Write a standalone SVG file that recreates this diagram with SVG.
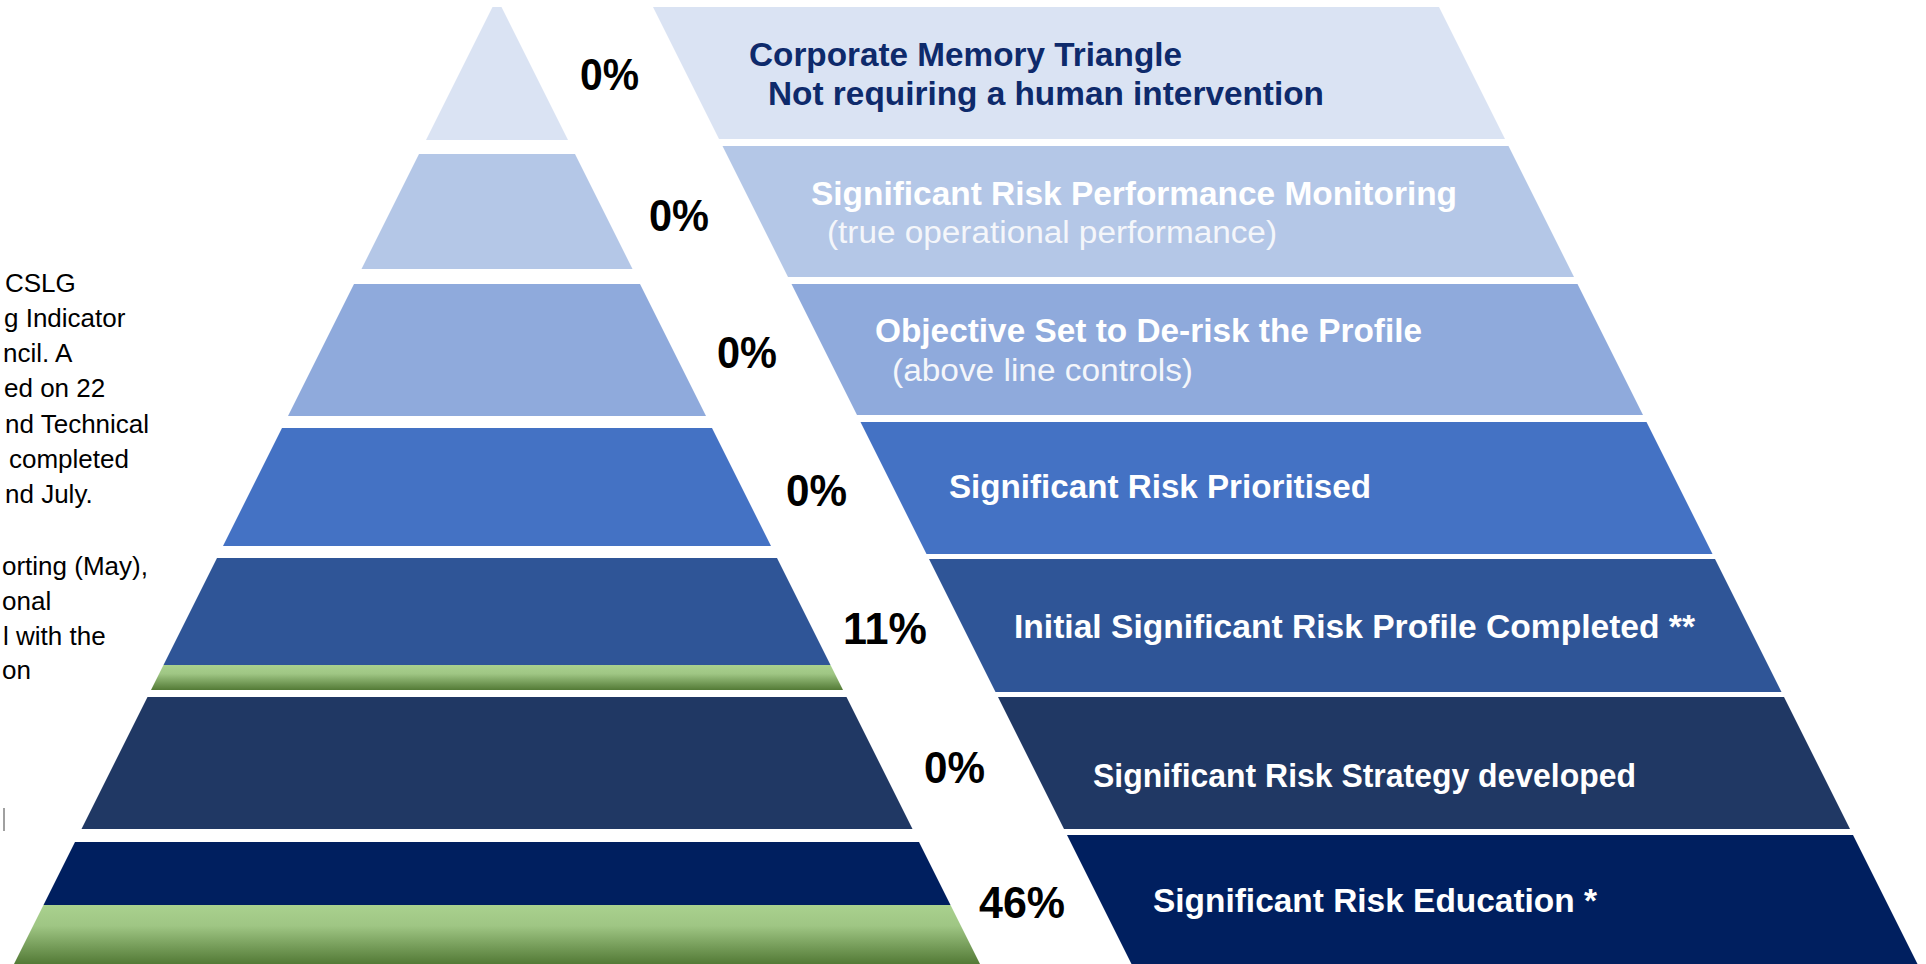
<svg xmlns="http://www.w3.org/2000/svg" width="1926" height="964" viewBox="0 0 1926 964">
<defs>
<linearGradient id="green" x1="0" y1="0" x2="0" y2="1">
<stop offset="0" stop-color="#a9d18e"/>
<stop offset="0.35" stop-color="#9fc684"/>
<stop offset="1" stop-color="#537a36"/>
</linearGradient>
<style>
.pct{font-family:"Liberation Sans",Arial,sans-serif;font-weight:bold;font-size:44px;fill:#000}
.lb{font-family:"Liberation Sans",Arial,sans-serif;font-weight:bold;font-size:33px;fill:#fff}
.lr{font-family:"Liberation Sans",Arial,sans-serif;font-size:31px;fill:#f4f6fa}
.nv{fill:#0e2a6b}
.side{font-family:"Liberation Sans",Arial,sans-serif;font-size:26px;fill:#000}
</style>
</defs>
<rect width="1926" height="964" fill="#fff"/>
<g id="side-text">
<text class="side" x="5" y="292">CSLG</text>
<text class="side" x="4" y="327">g Indicator</text>
<text class="side" x="3" y="362">ncil. A</text>
<text class="side" x="4" y="397">ed on 22</text>
<text class="side" x="5" y="433">nd Technical</text>
<text class="side" x="9" y="468">completed</text>
<text class="side" x="5" y="503">nd July.</text>
<text class="side" x="2" y="575">orting (May),</text>
<text class="side" x="2" y="610">onal</text>
<text class="side" x="3" y="645">l with the</text>
<text class="side" x="2" y="679">on</text>
<rect x="3" y="808" width="2" height="23" fill="#a0a0a0"/>
</g>
<g id="tier1">
<polygon points="492.5,7 501.5,7 568,140 426,140" fill="#dae3f3"/>
<polygon points="653,7 1439,7 1505,139 719,139" fill="#dae3f3"/>
<text class="pct" x="580" y="90" textLength="59" lengthAdjust="spacingAndGlyphs">0%</text>
<text class="lb nv" x="749" y="66" textLength="433" lengthAdjust="spacingAndGlyphs">Corporate Memory  Triangle</text>
<text class="lb nv" x="768" y="105" textLength="556" lengthAdjust="spacingAndGlyphs">Not requiring a human intervention</text>
</g>
<g id="tier2">
<polygon points="419,154 575,154 632.5,269 361.5,269" fill="#b4c7e7"/>
<polygon points="722.5,146 1508.5,146 1574,277 788,277" fill="#b4c7e7"/>
<text class="pct" x="649" y="231" textLength="60" lengthAdjust="spacingAndGlyphs">0%</text>
<text class="lb" x="811" y="205" textLength="646" lengthAdjust="spacingAndGlyphs">Significant Risk Performance Monitoring</text>
<text class="lr" x="827" y="243" textLength="450" lengthAdjust="spacingAndGlyphs">(true operational performance)</text>
</g>
<g id="tier3">
<polygon points="354,284 640,284 706,416 288,416" fill="#8faadc"/>
<polygon points="791.5,284 1577.5,284 1643,415 857,415" fill="#8faadc"/>
<text class="pct" x="717" y="368" textLength="60" lengthAdjust="spacingAndGlyphs">0%</text>
<text class="lb" x="875" y="342" textLength="547" lengthAdjust="spacingAndGlyphs">Objective Set to De-risk the Profile</text>
<text class="lr" x="892" y="381" textLength="301" lengthAdjust="spacingAndGlyphs">(above line controls)</text>
</g>
<g id="tier4">
<polygon points="282,428 712,428 771,546 223,546" fill="#4472c4"/>
<polygon points="860.5,422 1646.5,422 1712.5,554 926.5,554" fill="#4472c4"/>
<text class="pct" x="786" y="506" textLength="61" lengthAdjust="spacingAndGlyphs">0%</text>
<text class="lb" x="949" y="498" textLength="422" lengthAdjust="spacingAndGlyphs">Significant Risk Prioritised</text>
</g>
<g id="tier5">
<polygon points="217,558 777,558 830.5,665 163.5,665" fill="#2f5597"/>
<polygon points="163.5,665 830.5,665 843,690 151,690" fill="url(#green)"/>
<polygon points="929,559 1715,559 1781.5,692 995.5,692" fill="#2f5597"/>
<text class="pct" x="843" y="644" textLength="84" lengthAdjust="spacingAndGlyphs">11%</text>
<text class="lb" x="1014" y="638" textLength="681" lengthAdjust="spacingAndGlyphs">Initial Significant Risk Profile Completed **</text>
</g>
<g id="tier6">
<polygon points="147.5,697 846.5,697 912.5,829 81.5,829" fill="#203864"/>
<polygon points="998,697 1784,697 1850,829 1064,829" fill="#203864"/>
<text class="pct" x="924" y="783" textLength="61" lengthAdjust="spacingAndGlyphs">0%</text>
<text class="lb" x="1093" y="787" textLength="543" lengthAdjust="spacingAndGlyphs">Significant Risk Strategy developed</text>
</g>
<g id="tier7">
<polygon points="75,842 919,842 950.5,905 43.5,905" fill="#001f5f"/>
<polygon points="43.5,905 950.5,905 980,964 14,964" fill="url(#green)"/>
<polygon points="1067,835 1853,835 1917.5,964 1131.5,964" fill="#001f5f"/>
<text class="pct" x="979" y="918" textLength="86" lengthAdjust="spacingAndGlyphs">46%</text>
<text class="lb" x="1153" y="912" textLength="444" lengthAdjust="spacingAndGlyphs">Significant Risk Education *</text>
</g>
<g id="connectors"/>
</svg>
